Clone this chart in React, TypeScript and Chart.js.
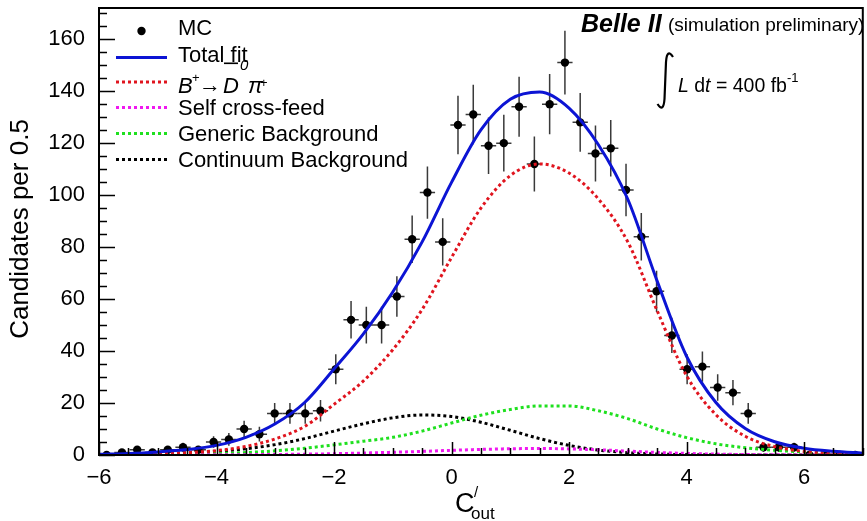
import { useEffect, useRef } from "react";
import { Chart, registerables } from "chart.js";

Chart.register(...registerables);

// Histogram binning of the MC sample
const X_MIN = -6;
const X_MAX = 7;
const N_BINS = 50;
const BIN_W = (X_MAX - X_MIN) / N_BINS;
const binCenters: number[] = Array.from({ length: N_BINS }, (_, i) => X_MIN + BIN_W * (i + 0.5));

// MC candidates per bin
const mcCounts: number[] = [
  0, 1, 2, 1, 2, 3, 2, 5, 6, 10,
  8, 16, 16, 16, 17, 33, 52, 50, 50, 61,
  83, 101, 82, 127, 131, 119, 120, 134, 112, 135,
  151, 128, 116, 118, 102, 84, 63, 46, 33, 34,
  26, 24, 16, 3, 3, 3, 0, 0, 0, 0,
];

// Fit components sampled along C'_out
const fitX: number[] = [
  -6, -5.5, -5, -4.5, -4, -3.5, -3, -2.5, -2, -1.5, -1, -0.5, 0,
  0.5, 1, 1.5, 2, 2.5, 3, 3.5, 4, 4.5, 5, 5.5, 6, 6.5, 7,
];
const totalFit: number[] = [
  0.3, 0.6, 1.2, 2.1, 3.7, 6.8, 12.0, 20.2, 33.1, 46.6, 62.7, 82.0, 104.9,
  125.1, 136.9, 139.7, 133.5, 119.4, 98.4, 66.9, 38.0, 20.2, 10.2, 5.1, 2.6, 1.4, 0.7,
];
const signalFit: number[] = [
  0.1, 0.2, 0.45, 0.9, 1.7, 3.3, 6.2, 11.0, 19.5, 28.5, 40.5, 56, 76,
  95, 107.5, 112, 108.5, 98.5, 82, 55.5, 30.5, 15.5, 7.2, 3.2, 1.4, 0.6, 0.25,
];
const selfCrossFeed: number[] = [
  0, 0, 0.02, 0.04, 0.08, 0.13, 0.2, 0.32, 0.5, 0.75, 1.05, 1.4, 1.8,
  2.15, 2.4, 2.5, 2.35, 2.0, 1.5, 1.0, 0.6, 0.35, 0.18, 0.09, 0.04, 0.02, 0.01,
];
const genericBkg: number[] = [
  0.05, 0.1, 0.2, 0.35, 0.55, 0.95, 1.6, 2.6, 3.9, 5.3, 6.8, 9.2, 12.3,
  15.3, 17.5, 18.9, 18.9, 17, 14, 10, 6.7, 4.3, 2.8, 1.8, 1.2, 0.75, 0.45,
];
const continuumBkg: number[] = [
  0.15, 0.3, 0.5, 0.85, 1.4, 2.4, 4.0, 6.3, 9.2, 12, 14.3, 15.4, 14.8,
  12.6, 9.5, 6.3, 3.7, 1.9, 0.9, 0.4, 0.15, 0.05, 0.02, 0, 0, 0, 0,
];

const xMajorTicks: number[] = [-6, -4, -2, 0, 2, 4, 6];
const yMajorTicks: number[] = [0, 20, 40, 60, 80, 100, 120, 140, 160];
const X_MINOR_STEP = 0.5;
const Y_MINOR_STEP = 5;
const Y_MAX = 172;

const BLUE = "#0c14d4";
const RED = "#e0141e";
const MAGENTA = "#f018f0";
const GREEN = "#1fe01f";
const FONT = '"Liberation Sans", Arial, Helvetica, sans-serif';

const seriesNames = ["MC", "Total fit", "Self cross-feed", "Generic Background", "Continuum Background"];

const toPoints = (xs: number[], ys: number[]) => xs.map((x, i) => ({ x, y: ys[i] }));

const errorBarsPlugin = {
  id: "errorBars",
  beforeDatasetsDraw(chart: any) {
    const { ctx, scales } = chart;
    const xs = scales.x;
    const ys = scales.y;
    ctx.save();
    ctx.strokeStyle = "#3a3a3a";
    ctx.lineWidth = 1.5;
    mcCounts.forEach((n, i) => {
      if (n <= 0) return;
      const c = binCenters[i];
      const err = Math.sqrt(n);
      const px = xs.getPixelForValue(c);
      const py = ys.getPixelForValue(n);
      ctx.beginPath();
      ctx.moveTo(px, ys.getPixelForValue(n - err));
      ctx.lineTo(px, ys.getPixelForValue(Math.min(n + err, Y_MAX)));
      ctx.moveTo(xs.getPixelForValue(c - BIN_W / 2), py);
      ctx.lineTo(xs.getPixelForValue(c + BIN_W / 2), py);
      ctx.stroke();
    });
    ctx.restore();
  },
};

const frameTicksPlugin = {
  id: "frameTicks",
  afterDraw(chart: any) {
    const { ctx, chartArea, scales } = chart;
    const xs = scales.x;
    const ys = scales.y;
    const { left, right, top, bottom } = chartArea;
    ctx.save();
    ctx.strokeStyle = "#000";
    ctx.lineWidth = 1.5;
    ctx.beginPath();
    for (let v = X_MIN; v <= X_MAX + 1e-9; v += X_MINOR_STEP) {
      const major = xMajorTicks.some((t) => Math.abs(t - v) < 1e-9);
      const px = Math.round(xs.getPixelForValue(v)) + 0.5;
      ctx.moveTo(px, bottom);
      ctx.lineTo(px, bottom - (major ? 13 : 7));
    }
    for (let v = 0; v <= Y_MAX; v += Y_MINOR_STEP) {
      const major = yMajorTicks.includes(v);
      const py = Math.round(ys.getPixelForValue(v)) + 0.5;
      ctx.moveTo(left, py);
      ctx.lineTo(left + (major ? 16 : 8), py);
    }
    ctx.stroke();
    ctx.lineWidth = 2;
    ctx.strokeRect(left, top, right - left, bottom - top);
    ctx.restore();
  },
};

function sampleLine(ctx: CanvasRenderingContext2D, y: number, color: string, dotted: boolean) {
  ctx.save();
  ctx.strokeStyle = color;
  ctx.lineWidth = 3;
  ctx.setLineDash(dotted ? [3, 3] : []);
  ctx.beginPath();
  ctx.moveTo(116, y);
  ctx.lineTo(167, y);
  ctx.stroke();
  ctx.restore();
}

const annotationsPlugin = {
  id: "annotations",
  afterDraw(chart: any) {
    const ctx: CanvasRenderingContext2D = chart.ctx;
    ctx.save();
    ctx.fillStyle = "#000";
    ctx.textBaseline = "alphabetic";
    ctx.textAlign = "left";
    const tx = 178;

    // legend
    ctx.beginPath();
    ctx.arc(141.5, 31, 4.2, 0, Math.PI * 2);
    ctx.fill();
    ctx.font = `22px ${FONT}`;
    ctx.fillText(seriesNames[0], tx, 35);

    sampleLine(ctx, 57.5, BLUE, false);
    ctx.fillText(seriesNames[1], tx, 62);

    sampleLine(ctx, 82, RED, true);
    // B+ -> anti-D0 pi+
    ctx.font = `italic 22px ${FONT}`;
    ctx.fillText("B", tx, 93);
    ctx.font = `13px ${FONT}`;
    ctx.fillText("+", 192, 82);
    ctx.font = `22px ${FONT}`;
    ctx.fillText("\u2192", 199, 92);
    ctx.font = `italic 22px ${FONT}`;
    ctx.fillText("D", 223, 93);
    ctx.fillRect(224, 62.5, 14, 1.6);
    ctx.font = `italic 15px ${FONT}`;
    ctx.fillText("0", 240, 70);
    ctx.font = `italic 22px ${FONT}`;
    ctx.fillText("\u03c0", 248, 93);
    ctx.font = `13px ${FONT}`;
    ctx.fillText("+", 260, 87);

    ctx.font = `22px ${FONT}`;
    sampleLine(ctx, 107.5, MAGENTA, true);
    ctx.fillText(seriesNames[2], tx, 115);
    sampleLine(ctx, 133.5, GREEN, true);
    ctx.fillText(seriesNames[3], tx, 141);
    sampleLine(ctx, 159.5, "#000", true);
    ctx.fillText(seriesNames[4], tx, 167);

    // experiment label
    ctx.font = `italic bold 25px ${FONT}`;
    ctx.fillText("Belle II", 581, 32);
    ctx.font = `19px ${FONT}`;
    ctx.fillText("(simulation preliminary)", 668, 31);

    // integrated luminosity
    ctx.save();
    ctx.strokeStyle = "#000";
    ctx.lineWidth = 2.2;
    ctx.beginPath();
    ctx.moveTo(673, 57);
    ctx.quadraticCurveTo(667, 48, 666, 62);
    ctx.lineTo(664.5, 99);
    ctx.quadraticCurveTo(663.5, 113, 657.5, 104);
    ctx.stroke();
    ctx.restore();

    let x = 678;
    const base = 92;
    const run = (t: string, font: string, dy = 0) => {
      ctx.font = font;
      ctx.fillText(t, x, base + dy);
      x += ctx.measureText(t).width;
    };
    run("L", `italic 19.5px ${FONT}`);
    run(" d", `19.5px ${FONT}`);
    run("t", `italic 19.5px ${FONT}`);
    run(" = 400 fb", `19.5px ${FONT}`);
    run("-1", `13px ${FONT}`, -10);

    // x-axis title C'_out
    ctx.font = `27px ${FONT}`;
    ctx.fillText("C", 455, 512);
    ctx.font = `15px ${FONT}`;
    ctx.fillText("/", 474, 497);
    ctx.font = `17px ${FONT}`;
    ctx.fillText("out", 471, 519);

    // y-axis title
    ctx.save();
    ctx.translate(28, 229);
    ctx.rotate(-Math.PI / 2);
    ctx.textAlign = "center";
    ctx.font = `26px ${FONT}`;
    ctx.fillText("Candidates per 0.5", 0, 0);
    ctx.restore();

    ctx.restore();
  },
};

export default function App() {
  const canvasRef = useRef<HTMLCanvasElement | null>(null);

  useEffect(() => {
    const canvas = canvasRef.current;
    if (!canvas) return;
    Chart.defaults.font.family = FONT;
    const dotted = { borderDash: [3, 3], borderCapStyle: "butt" as const };
    const curve = (label: string, ys: number[], color: string, order: number, extra: any = {}) => ({
      type: "line" as const,
      label,
      data: toPoints(fitX, ys),
      borderColor: color,
      borderWidth: 3,
      pointRadius: 0,
      fill: false,
      tension: 0.4,
      cubicInterpolationMode: "monotone" as const,
      order,
      ...extra,
    });
    const chart = new Chart(canvas, {
      type: "scatter",
      data: {
        datasets: [
          curve("Total fit", totalFit, BLUE, 0),
          curve("Signal", signalFit, RED, 1, dotted),
          curve("Self cross-feed", selfCrossFeed, MAGENTA, 2, dotted),
          curve("Generic Background", genericBkg, GREEN, 3, dotted),
          curve("Continuum Background", continuumBkg, "#000", 4, dotted),
          {
            type: "scatter" as const,
            label: "MC",
            data: toPoints(binCenters, mcCounts),
            pointRadius: 4.2,
            pointBackgroundColor: "#000",
            pointBorderWidth: 0,
            order: 10,
          },
        ] as any,
      },
      options: {
        animation: false,
        responsive: false,
        events: [],
        layout: { padding: { top: 8, right: 3, left: 0, bottom: 0 } },
        plugins: { legend: { display: false }, tooltip: { enabled: false } },
        scales: {
          x: {
            type: "linear",
            min: X_MIN,
            max: X_MAX,
            grid: { display: false, drawTicks: false },
            border: { display: false },
            afterBuildTicks: (s: any) => {
              s.ticks = xMajorTicks.map((v) => ({ value: v }));
            },
            afterFit: (s: any) => {
              s.height = 66;
              s.paddingLeft = 0;
              s.paddingRight = 0;
            },
            ticks: {
              color: "#000",
              font: { size: 22 },
              padding: 10,
              maxRotation: 0,
              autoSkip: false,
              callback: (v: any) => (Number(v) < 0 ? "\u2212" + Math.abs(Number(v)) : String(v)),
            },
          },
          y: {
            type: "linear",
            min: 0,
            max: Y_MAX,
            grid: { display: false, drawTicks: false },
            border: { display: false },
            afterBuildTicks: (s: any) => {
              s.ticks = yMajorTicks.map((v) => ({ value: v }));
            },
            afterFit: (s: any) => {
              s.width = 99;
              s.paddingTop = 0;
              s.paddingBottom = 0;
            },
            ticks: {
              color: "#000",
              font: { size: 22 },
              padding: 14,
              autoSkip: false,
              callback: (v: any) => String(v),
            },
          },
        },
      },
      plugins: [errorBarsPlugin, frameTicksPlugin, annotationsPlugin],
    });
    return () => chart.destroy();
  }, []);

  return (
    <div style={{ position: "absolute", left: 0, top: 0, width: 867, height: 521, background: "#fff" }}>
      <canvas ref={canvasRef} width={867} height={521} style={{ display: "block" }} />
    </div>
  );
}
